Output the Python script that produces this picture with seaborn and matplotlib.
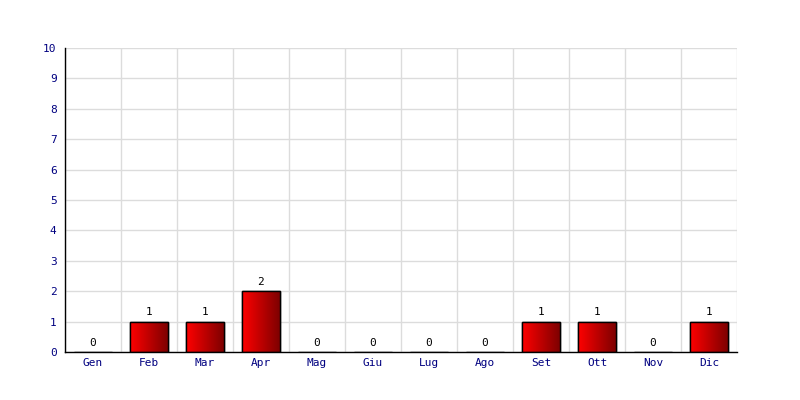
import numpy as np
import seaborn as sns
import matplotlib
matplotlib.use("Agg")
import matplotlib.pyplot as plt
from matplotlib.colors import LinearSegmentedColormap

months = ["Gen", "Feb", "Mar", "Apr", "Mag", "Giu", "Lug", "Ago", "Set", "Ott", "Nov", "Dic"]
counts = [0, 1, 1, 2, 0, 0, 0, 0, 1, 1, 0, 1]
y_ticks = list(range(0, 11))

sns.set_style("white")
plt.rcParams["font.family"] = ["DejaVu Sans Mono"]

fig = plt.figure(figsize=(8, 4), dpi=100)
ax = fig.add_axes([0.08125, 0.12, 0.84, 0.76])

sns.barplot(x=months, y=counts, ax=ax, color="red", width=0.68,
            edgecolor="black", linewidth=1, zorder=3)

# red -> dark red gradient inside each bar
grad_cmap = LinearSegmentedColormap.from_list("redgrad", ["#ff0000", "#7a0000"])
grad = np.linspace(0, 1, 256).reshape(1, -1)
for p in ax.patches:
    h = p.get_height()
    if h <= 0:
        continue
    x0 = p.get_x()
    w = p.get_width()
    im = ax.imshow(grad, cmap=grad_cmap, aspect="auto", zorder=3.5,
                   extent=[x0, x0 + w, 0, h], interpolation="bilinear")
    im.set_clip_path(p)
    ax.add_patch(plt.Rectangle((x0, 0), w, h, fill=False, edgecolor="black",
                               linewidth=1, zorder=4))

for i, v in enumerate(counts):
    ax.annotate(str(v), (i, v), xytext=(0, 3), textcoords="offset points",
                ha="center", va="bottom", fontsize=8, color="black")

ax.set_xlim(-0.5, len(months) - 0.5)
ax.set_ylim(0, 10)
ax.set_yticks(y_ticks)
ax.set_xticks(np.arange(-0.5, len(months), 1), minor=False)
ax.set_xticklabels([])
ax.set_xticks(np.arange(len(months)), minor=True)
ax.set_xticklabels(months, minor=True)
ax.tick_params(axis="x", which="both", length=0, labelsize=8, labelcolor="#000080", pad=4)
ax.tick_params(axis="y", length=0, labelsize=8, labelcolor="#000080", pad=6)
ax.grid(True, which="major", color="#dcdcdc", linewidth=1, zorder=0)
ax.set_axisbelow(True)

for side in ["top", "right"]:
    ax.spines[side].set_visible(False)
for side in ["left", "bottom"]:
    ax.spines[side].set_color("black")
    ax.spines[side].set_linewidth(1)
    ax.spines[side].set_zorder(5)

fig.savefig("out.png", dpi=100)
